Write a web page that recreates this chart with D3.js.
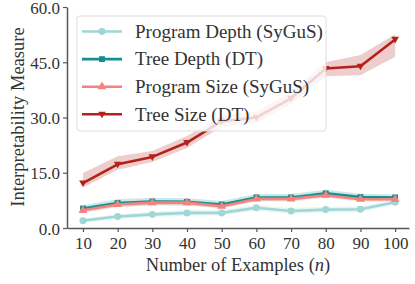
<!DOCTYPE html>
<html>
<head>
<meta charset="utf-8">
<script src="https://cdn.jsdelivr.net/npm/d3@7"></script>
<style>
  body { margin: 0; background: #fff; }
</style>
</head>
<body>
<svg id="chart" width="415" height="284"></svg>
<script>
// data
const examples = [10, 20, 30, 40, 50, 60, 70, 80, 90, 100];
const yTicks = [0, 15, 30, 45, 60];

const progDepth = [2.0, 3.1, 3.7, 4.1, 4.1, 5.5, 4.6, 5.0, 5.1, 7.0];
const progDepthLo = [1.5, 2.5, 3.0, 3.3, 3.4, 4.7, 3.9, 4.2, 4.3, 6.4];
const progDepthHi = [2.5, 3.7, 4.4, 4.9, 4.9, 6.3, 5.4, 5.8, 5.9, 7.6];

const treeDepth = [5.3, 6.8, 7.2, 7.1, 6.4, 8.3, 8.3, 9.4, 8.4, 8.3];
const treeDepthLo = [4.4, 5.8, 6.2, 6.1, 5.5, 7.4, 7.4, 8.4, 7.5, 7.5];
const treeDepthHi = [6.2, 7.8, 8.2, 8.1, 7.3, 9.2, 9.2, 10.4, 9.3, 9.1];

const progSize = [4.8, 6.4, 6.9, 6.9, 5.9, 7.9, 7.9, 8.9, 7.8, 7.8];
const progSizeLo = [4.1, 5.7, 6.2, 6.2, 5.2, 7.2, 7.2, 8.2, 7.1, 7.1];
const progSizeHi = [5.5, 7.1, 7.6, 7.6, 6.6, 8.6, 8.6, 9.6, 8.5, 8.5];

const treeSize = [12.2, 17.3, 19.3, 23.2, 29.0, 30.0, 35.2, 43.3, 43.9, 51.2];
const treeSizeLo = [11.0, 15.8, 17.9, 21.7, 27.5, 28.6, 33.7, 41.2, 41.5, 46.5];
const treeSizeHi = [14.9, 19.5, 20.9, 25.0, 30.6, 31.6, 37.0, 45.0, 47.0, 52.6];

const series = [
  {name: "Program Depth (SyGuS)", color: "#9fd7d6", marker: "circle", v: progDepth, lo: progDepthLo, hi: progDepthHi},
  {name: "Tree Depth (DT)", color: "#13908f", marker: "square", v: treeDepth, lo: treeDepthLo, hi: treeDepthHi},
  {name: "Program Size (SyGuS)", color: "#f4827f", marker: "triangle", v: progSize, lo: progSizeLo, hi: progSizeHi},
  {name: "Tree Size (DT)", color: "#b3211b", marker: "triangleDown", v: treeSize, lo: treeSizeLo, hi: treeSizeHi}
];

const serif = "'Liberation Serif'";
const svg = d3.select("#chart");

const x = d3.scaleLinear().domain([5.4, 104]).range([67, 409]);
const y = d3.scaleLinear().domain([0, 60]).range([228, 7]);

// axes
const xAxis = svg.append("g")
  .attr("transform", "translate(0,228)")
  .call(d3.axisBottom(x).tickValues(examples).tickSize(4).tickPadding(3).tickSizeOuter(0));
const yAxis = svg.append("g")
  .attr("transform", "translate(67,0)")
  .call(d3.axisLeft(y).tickValues(yTicks).tickFormat(d3.format(".1f")).tickSize(4).tickPadding(3).tickSizeOuter(0));

[xAxis, yAxis].forEach(function(a) {
  a.attr("font-family", null).attr("font-size", null);
  a.select(".domain").attr("stroke", "#555").attr("stroke-width", 1.5);
  a.selectAll(".tick line").attr("stroke", "#555").attr("stroke-width", 1.2);
  a.selectAll(".tick text")
    .style("font-family", serif)
    .attr("font-size", 17)
    .attr("fill", "#333");
});
xAxis.selectAll(".tick text").attr("dy", "0.85em");
yAxis.selectAll(".tick text").attr("dy", "0.36em");

// axis titles
const xTitle = svg.append("text")
  .attr("x", 238).attr("y", 271)
  .attr("text-anchor", "middle")
  .style("font-family", serif)
  .attr("font-size", 18.5)
  .attr("fill", "#333");
xTitle.append("tspan").text("Number of Examples (");
xTitle.append("tspan").style("font-style", "italic").text("n");
xTitle.append("tspan").text(")");

svg.append("text")
  .attr("transform", "translate(24,117) rotate(-90)")
  .attr("text-anchor", "middle")
  .style("font-family", serif)
  .attr("font-size", 18.5)
  .attr("fill", "#333")
  .text("Interpretability Measure");

// bands
series.forEach(function(s) {
  const area = d3.area()
    .x(function(d, i) { return x(examples[i]); })
    .y0(function(d, i) { return y(s.lo[i]); })
    .y1(function(d, i) { return y(s.hi[i]); });
  svg.append("path")
    .datum(s.v)
    .attr("d", area)
    .attr("fill", s.color)
    .attr("fill-opacity", 0.22)
    .attr("stroke", "none");
});

function markerPath(type) {
  if (type == "circle") return d3.symbol(d3.symbolCircle, 38)();
  if (type == "square") return d3.symbol(d3.symbolSquare, 34)();
  if (type == "triangle") return d3.symbol(d3.symbolTriangle, 34)();
  return "M-3.8,-2.6L3.8,-2.6L0,4L-3.8,-2.6Z";
}

// lines + markers
series.forEach(function(s) {
  const line = d3.line()
    .x(function(d, i) { return x(examples[i]); })
    .y(function(d) { return y(d); });
  svg.append("path")
    .datum(s.v)
    .attr("d", line)
    .attr("fill", "none")
    .attr("stroke", s.color)
    .attr("stroke-width", 2.6)
    .attr("stroke-linejoin", "round");
  svg.append("g").selectAll("path")
    .data(s.v)
    .enter().append("path")
      .attr("d", markerPath(s.marker))
      .attr("transform", function(d, i) { return "translate(" + x(examples[i]) + "," + y(d) + ")"; })
      .attr("fill", s.color);
});

// legend
const legend = svg.append("g");
legend.append("rect")
  .attr("x", 77).attr("y", 16)
  .attr("width", 249).attr("height", 115)
  .attr("rx", 3)
  .attr("fill", "#fff").attr("fill-opacity", 0.8)
  .attr("stroke", "#ddd").attr("stroke-width", 1);

series.forEach(function(s, i) {
  const ly = 31.5 + i * 27.6;
  legend.append("line")
    .attr("x1", 82).attr("x2", 122)
    .attr("y1", ly).attr("y2", ly)
    .attr("stroke", s.color).attr("stroke-width", 2.6);
  legend.append("path")
    .attr("d", markerPath(s.marker))
    .attr("transform", "translate(102," + ly + ")")
    .attr("fill", s.color);
  legend.append("text")
    .attr("x", 135).attr("y", ly)
    .attr("dy", "0.33em")
    .style("font-family", serif)
    .attr("font-size", 19)
    .attr("fill", "#333")
    .text(s.name);
});
</script>
</body>
</html>
